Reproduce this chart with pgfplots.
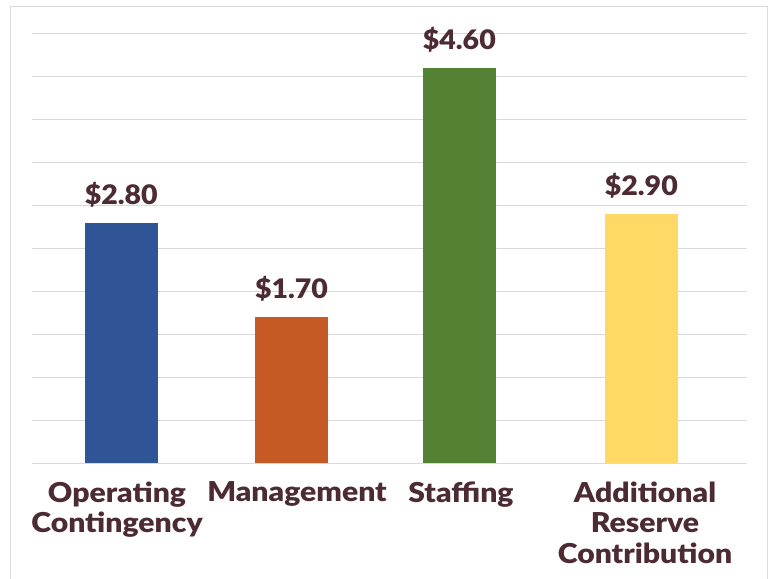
\documentclass[border=0pt]{standalone}
\usepackage{pgfplots}
\pgfplotsset{compat=1.18}
\usepackage{fontspec}
\setmainfont{Lato Black}
\newfontfamily\catfont{Lato Black}[FakeStretch=1.1]
\newfontfamily\valfont{Lato Black}[FakeStretch=1.06]
\definecolor{txt}{HTML}{4D2B33}
\definecolor{gridc}{HTML}{D9D9D9}
\definecolor{cblue}{HTML}{2F5597}
\definecolor{corange}{HTML}{C55A24}
\definecolor{cgreen}{HTML}{548235}
\definecolor{cyellow}{HTML}{FFD966}
\begin{document}
\begin{tikzpicture}
\path[use as bounding box] (0,0) rectangle (774bp,-579bp);
\draw[gridc, line width=1.5bp] (10.5bp,-700bp) -- (10.5bp,-6.5bp) -- (767.5bp,-6.5bp) -- (767.5bp,-700bp);
\begin{axis}[
  at={(32bp,-463.3bp)}, anchor=south west,
  scale only axis, width=715bp, height=429.6bp,
  xmin=32, xmax=747, ymin=0, ymax=5,
  axis line style={draw=none}, tick style={draw=none},
  ytick={0,0.5,...,5}, yticklabels={},
  ymajorgrids, grid style={gridc, line width=1bp},
  xtick={117,297,461,645},
  xticklabels={{Operating\\Contingency},{Management},{Staffing},{Additional\\Reserve\\Contribution}},
  xticklabel style={align=center, anchor=north, inner sep=0pt, yshift=-14bp, text=txt,
     font=\catfont\fontsize{27.5}{30.5}\selectfont},
  ybar, bar width=72.7,
  point meta=explicit symbolic,
  nodes near coords,
  every node near coord/.append style={anchor=base, yshift=18.4bp, inner sep=0pt, text=txt,
     font=\valfont\fontsize{27}{30}\selectfont},
]
\addplot[draw=none, fill=cblue, bar shift=0pt] coordinates {(121.3,2.8) [\$2.80]};
\addplot[draw=none, fill=corange, bar shift=0pt] coordinates {(291.5,1.7) [\$1.70]};
\addplot[draw=none, fill=cgreen, bar shift=0pt] coordinates {(459.3,4.6) [\$4.60]};
\addplot[draw=none, fill=cyellow, bar shift=0pt] coordinates {(641.3,2.9) [\$2.90]};
\end{axis}
\end{tikzpicture}
\end{document}
